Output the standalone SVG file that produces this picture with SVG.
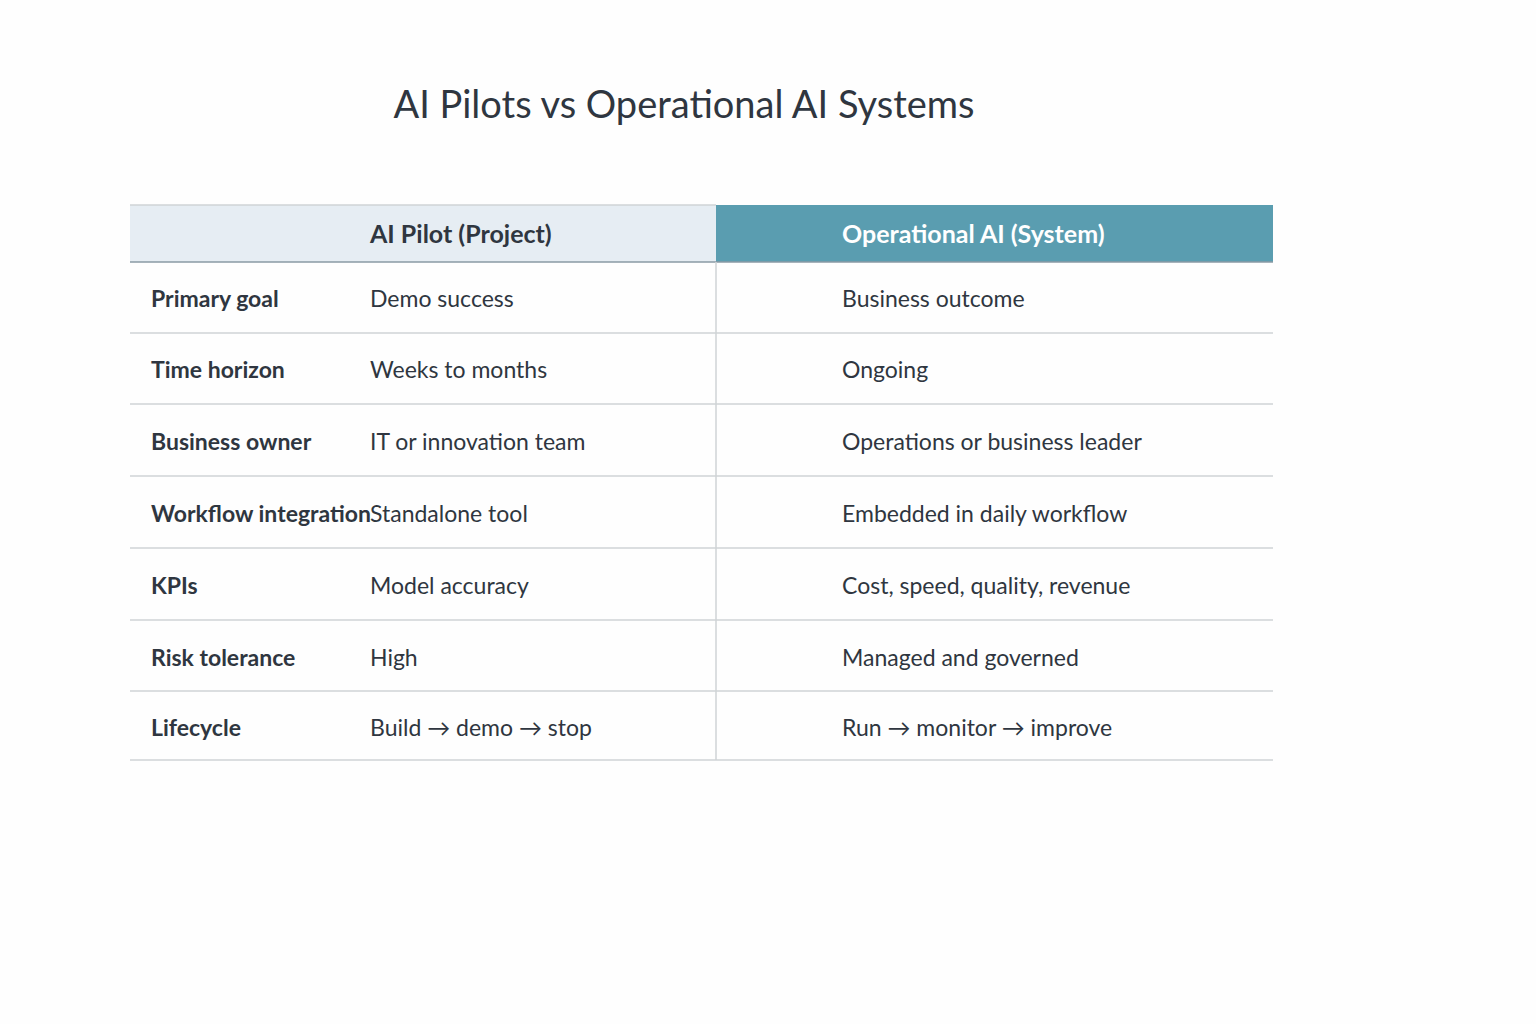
<svg xmlns="http://www.w3.org/2000/svg" width="1536" height="1024" viewBox="0 0 1536 1024">
<style>
text{font-family:Lato,"Open Sans",sans-serif;fill:#2f3640}
.t{font-size:38px}
.h{font-size:25px;font-weight:bold}
.l{font-size:23px;font-weight:bold}
.c{font-size:23px}
.ln{stroke:#cfd3d6;stroke-width:1.5}
</style>
<rect width="1536" height="1024" fill="#fefefe"/>
<text class="t" x="684" y="118" text-anchor="middle">AI Pilots vs Operational AI Systems</text>
<g id="header">
<rect x="130" y="205" width="586" height="57" fill="#e6edf3"/>
<rect x="716" y="205" width="557" height="57" fill="#5a9db0"/>
<text class="h" x="370" y="243">AI Pilot (Project)</text>
<text class="h" x="842" y="243" style="fill:#ffffff">Operational AI (System)</text>
</g>
<g id="grid">
<line class="ln" x1="130" y1="205" x2="716" y2="205"/>
<line class="ln" x1="130" y1="262" x2="1273" y2="262" style="stroke:#8a9aa5"/>
<line class="ln" x1="130" y1="333" x2="1273" y2="333"/>
<line class="ln" x1="130" y1="404" x2="1273" y2="404"/>
<line class="ln" x1="130" y1="476" x2="1273" y2="476"/>
<line class="ln" x1="130" y1="548" x2="1273" y2="548"/>
<line class="ln" x1="130" y1="620" x2="1273" y2="620"/>
<line class="ln" x1="130" y1="691" x2="1273" y2="691"/>
<line class="ln" x1="130" y1="760" x2="1273" y2="760"/>
<line class="ln" x1="716" y1="262" x2="716" y2="760"/>
</g>
<g id="rows">
<text class="l" x="151" y="307">Primary goal</text><text class="c" x="370" y="307">Demo success</text><text class="c" x="842" y="307">Business outcome</text>
<text class="l" x="151" y="378">Time horizon</text><text class="c" x="370" y="378">Weeks to months</text><text class="c" x="842" y="378">Ongoing</text>
<text class="l" x="151" y="450">Business owner</text><text class="c" x="370" y="450">IT or innovation team</text><text class="c" x="842" y="450">Operations or business leader</text>
<text class="l" x="151" y="522">Workflow integration</text><text class="c" x="370" y="522">Standalone tool</text><text class="c" x="842" y="522">Embedded in daily workflow</text>
<text class="l" x="151" y="594">KPIs</text><text class="c" x="370" y="594">Model accuracy</text><text class="c" x="842" y="594">Cost, speed, quality, revenue</text>
<text class="l" x="151" y="666">Risk tolerance</text><text class="c" x="370" y="666">High</text><text class="c" x="842" y="666">Managed and governed</text>
<text class="l" x="151" y="736">Lifecycle</text><text class="c" x="370" y="736">Build → demo → stop</text><text class="c" x="842" y="736">Run → monitor → improve</text>
</g>
</svg>
